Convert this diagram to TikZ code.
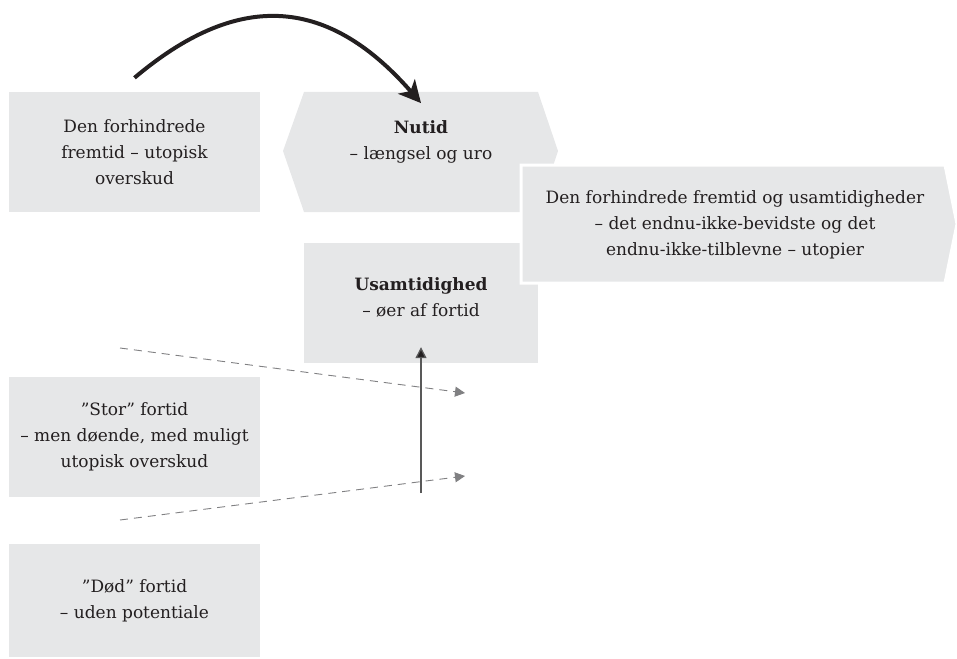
\documentclass[tikz,border=0pt]{standalone}
\usepackage{fontspec}
\setmainfont{DejaVu Serif}
\usepackage{tikz}
\usetikzlibrary{arrows.meta}
\definecolor{boxgray}{RGB}{230, 231, 232}
\definecolor{textdark}{RGB}{35, 31, 32}
\definecolor{dashgray}{RGB}{128, 128, 130}
\tikzset{
    boxtext/.style={align=center, text=textdark, font=\fontsize{17}{26}\selectfont},
    plainbox/.style={boxtext, fill=boxgray, minimum width=251pt, minimum height=120pt, inner sep=0pt},
    dasharrow/.style={dashgray, dashed, dash pattern=on 8pt off 6pt, line width=0.9pt, -{Triangle[length=10pt, width=10pt]}}
}

\begin{document}
\begin{tikzpicture}[x=1pt, y=-1pt]
    \useasboundingbox (0,0) rectangle (957,658);

    % left column
    \node[plainbox] (fremtid) at (134.5,152) {Den forhindrede\\fremtid -- utopisk\\overskud};
    \node[plainbox] (stor) at (134.5,437) {"Stor" fortid\\-- men døende, med muligt\\utopisk overskud};
    \node[plainbox, minimum height=113pt] (doed) at (134.5,600.5) {"Død" fortid\\-- uden potentiale};

    % middle column
    \fill[boxgray] (283,151) -- (304,92) -- (538,92) -- (558,151) -- (538,212) -- (304,212) -- cycle;
    \node[boxtext] (nutid) at (421,142) {\textbf{Nutid}\\-- længsel og uro};
    \node[plainbox, minimum width=234pt] (usamtid) at (421,303) {};
    \node[boxtext] (usamtext) at (421,297) {\textbf{Usamtidighed}\\-- øer af fortid};

    % right box
    \filldraw[fill=boxgray, draw=white, line width=3pt] (521,165) -- (945,165) -- (957,224) -- (945,283) -- (521,283) -- cycle;
    \node[boxtext] (utopier) at (735,225) {Den forhindrede fremtid og usamtidigheder\\-- det endnu-ikke-bevidste og det\\endnu-ikke-tilblevne -- utopier};

    % arrows
    \coordinate (dashA) at (120,348);
    \coordinate (dashAend) at (465,393);
    \coordinate (dashB) at (120,520);
    \coordinate (dashBend) at (465,476);
    \coordinate (upstart) at (421,493);
    \draw[dasharrow] (dashA) -- (dashAend);
    \draw[dasharrow] (dashB) -- (dashBend);
    \draw[line width=1.3pt, draw=black!65, -{Triangle[length=11pt, width=11pt, fill=textdark]}] (upstart) -- ([yshift=16pt]usamtid.south);
    \draw[line width=4pt, textdark, -{Stealth[length=22pt, width=22pt, inset=6pt]}] ([yshift=14pt]fremtid.north) .. controls (235,-7) and (325,-7) .. ([yshift=14pt]usamtid.north |- nutid.north);
\end{tikzpicture}
\end{document}
